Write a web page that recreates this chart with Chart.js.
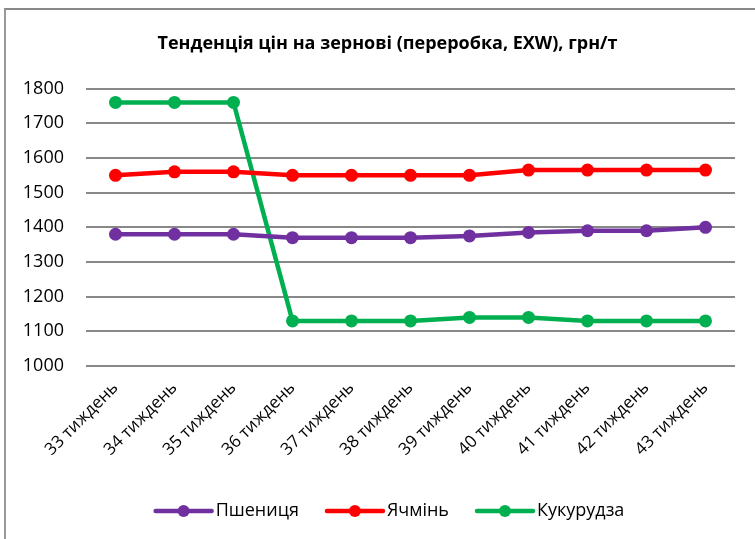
<!DOCTYPE html>
<html>
<head>
<meta charset="utf-8">
<script src="https://cdn.jsdelivr.net/npm/chart.js@4.4.0/dist/chart.umd.min.js"></script>
<style>
    html, body { margin: 0; padding: 0; background: #fff; }
    #wrap { position: relative; width: 755px; height: 539px; }
    #frame {
        position: absolute; left: 4px; top: 8px; right: 0; bottom: 0;
        border-left: 2px solid #999; border-top: 2px solid #888;
        pointer-events: none;
    }
    canvas { position: absolute; left: 0; top: 0; }
</style>
</head>
<body>
<div id="wrap">
    <canvas id="priceChart" width="755" height="539"></canvas>
    <div id="frame"></div>
</div>
<script>
// Tendency of grain prices, weeks 33-43

const weeks = ['33 тиждень', '34 тиждень', '35 тиждень', '36 тиждень', '37 тиждень',
               '38 тиждень', '39 тиждень', '40 тиждень', '41 тиждень', '42 тиждень', '43 тиждень'];
const wheat = [1380, 1380, 1380, 1370, 1370, 1370, 1375, 1385, 1390, 1390, 1400];
const barley = [1550, 1560, 1560, 1550, 1550, 1550, 1550, 1565, 1565, 1565, 1565];
const corn = [1760, 1760, 1760, 1130, 1130, 1130, 1140, 1140, 1130, 1130, 1130];

const seriesNames = ['Пшениця', 'Ячмінь', 'Кукурудза'];
const seriesColors = ['#7030A0', '#FF0000', '#00B050'];

const FONT = "'Open Sans', 'Liberation Sans', sans-serif";

// Draw legend like the office one: line with a dot in the middle
const lineLegend = {
    id: 'lineLegend',
    afterLayout(chart) {
        // title in the original sits a bit right of the canvas centre
        if (chart.titleBlock) chart.titleBlock.left = 40;
    },
    afterDraw(chart) {
        const ctx = chart.ctx;
        const y = 511;
        const lineW = 56;
        const gapText = 4;
        const gapItem = 28;
        ctx.save();
        ctx.font = '18px ' + FONT;
        const widths = seriesNames.map(n => ctx.measureText(n).width);
        let total = 0;
        widths.forEach((w, i) => { total += lineW + gapText + w + (i < widths.length - 1 ? gapItem : 0); });
        let x = 390 - total / 2;
        seriesNames.forEach((name, i) => {
            ctx.strokeStyle = seriesColors[i];
            ctx.fillStyle = seriesColors[i];
            ctx.lineWidth = 4.5;
            ctx.lineCap = 'round';
            ctx.beginPath();
            ctx.moveTo(x, y);
            ctx.lineTo(x + lineW, y);
            ctx.stroke();
            ctx.beginPath();
            ctx.arc(x + lineW / 2, y, 6, 0, Math.PI * 2);
            ctx.fill();
            ctx.fillStyle = '#000';
            ctx.textBaseline = 'middle';
            ctx.textAlign = 'left';
            ctx.fillText(name, x + lineW + gapText, y);
            x += lineW + gapText + widths[i] + gapItem;
        });
        ctx.restore();
    }
};

function makeDataset(label, data, color) {
    return {
        label: label,
        data: data,
        borderColor: color,
        backgroundColor: color,
        borderWidth: 4.5,
        pointRadius: 6.5,
        pointHoverRadius: 6.5,
        pointBorderWidth: 0,
        tension: 0
    };
}

new Chart(document.getElementById('priceChart'), {
    type: 'line',
    data: {
        labels: weeks,
        datasets: [
            makeDataset(seriesNames[0], wheat, seriesColors[0]),
            makeDataset(seriesNames[1], barley, seriesColors[1]),
            makeDataset(seriesNames[2], corn, seriesColors[2])
        ]
    },
    options: {
        responsive: false,
        animation: false,
        layout: { padding: { left: 0, right: 20, top: 0, bottom: 66 } },
        plugins: {
            legend: { display: false },
            tooltip: { enabled: false },
            title: {
                display: true,
                text: 'Тенденція цін на зернові (переробка, EXW), грн/т',
                color: '#000',
                font: { family: FONT, size: 18, weight: 'bold' },
                padding: { top: 33, bottom: 34 }
            }
        },
        scales: {
            x: {
                offset: true,
                grid: { display: false },
                border: { display: false },
                ticks: {
                    color: '#000',
                    font: { family: FONT, size: 17 },
                    minRotation: 45,
                    maxRotation: 45,
                    padding: 4
                },
                afterFit(scale) { scale.height = 107; }
            },
            y: {
                min: 1000,
                max: 1800,
                grid: { color: '#888', lineWidth: 2, drawTicks: false },
                border: { display: false },
                ticks: {
                    stepSize: 100,
                    color: '#000',
                    font: { family: FONT, size: 18 },
                    padding: 22,
                    callback: v => String(v)
                },
                afterFit(scale) { scale.width = 86; }
            }
        }
    },
    plugins: [lineLegend]
});
</script>
</body>
</html>
